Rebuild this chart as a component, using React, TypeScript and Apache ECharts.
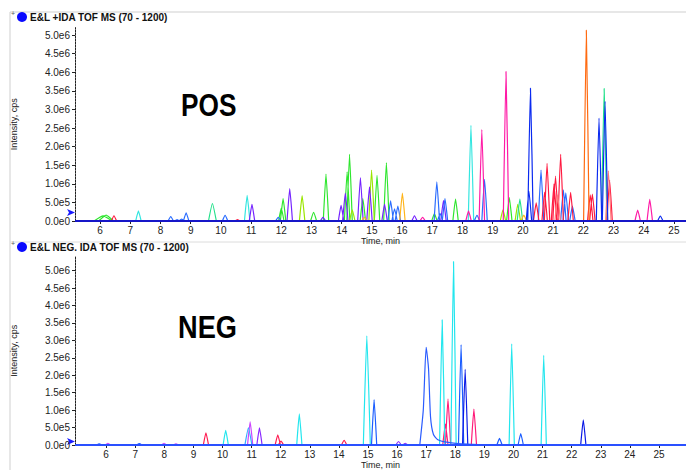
import React, { useEffect, useRef } from "react";
import * as echarts from "echarts";

// ---- Data: peaks as [retention time (min), intensity (x1e6 cps), optional half-width (min)] ----
// POS panel (E&L +IDA TOF MS)
const posGreen = [[6.1, 0.14, 0.3], [6.2, 0.16, 0.25], [12.0, 0.35], [12.06, 0.6], [13.07, 0.23, 0.1], [13.48, 1.26], [14.18, 1.32], [14.26, 1.79], [14.7, 0.6], [15.17, 1.23], [15.48, 1.57], [17.07, 0.2], [17.77, 0.59], [19.55, 0.63]];
const posLime = [[12.69, 0.68], [14.99, 1.37], [14.35, 0.3], [19.34, 0.3], [19.83, 0.45]];
const posSea = [[9.72, 0.47, 0.13], [19.9, 0.59], [22.69, 3.56]];
const posCyan = [[7.27, 0.27], [10.87, 0.69], [18.28, 2.57]];
const posViolet = [[11.03, 0.45], [12.28, 0.87], [13.38, 0.1], [13.98, 0.42], [14.12, 0.75], [14.62, 1.17], [14.92, 0.92], [15.42, 0.45], [16.41, 0.14], [17.37, 0.55]];
const posBlue = [[8.34, 0.12], [8.55, 0.04], [8.7, 0.05], [8.85, 0.22], [10.14, 0.15], [11.9, 0.1], [15.62, 0.54], [15.75, 0.33], [15.86, 0.4], [17.15, 1.05], [17.26, 0.2], [17.42, 0.6], [18.48, 0.15], [18.73, 1.12], [20.6, 1.37], [21.34, 0.84], [21.42, 0.76], [21.64, 0.4]];
const posDeepBlue = [[20.2, 0.8], [20.25, 3.57], [22.52, 2.77], [22.72, 3.22], [24.55, 0.13]];
const posMagenta = [[16.68, 0.1], [18.2, 0.27], [18.64, 2.46], [19.44, 4.02], [23.8, 0.29], [24.2, 0.58]];
const posRed = [[6.46, 0.14], [10.55, 0.04], [20.44, 0.49], [20.72, 0.78], [20.8, 1.55], [21.03, 1.0], [21.08, 1.21], [21.25, 1.79], [21.58, 0.77], [22.23, 0.7], [22.3, 0.72], [22.87, 1.1]];
const posOrange = [[22.1, 5.13]];
const posGold = [[14.75, 0.1], [16.01, 0.75], [20.03, 0.16]];
const posSalmon = [[21.15, 0.7], [22.83, 1.35]];

// NEG panel (E&L NEG. IDA TOF MS)
const negCyan = [[10.11, 0.42], [12.64, 0.89], [14.96, 3.13, 0.12], [17.55, 3.59], [17.94, 5.26], [19.94, 2.9], [21.04, 2.57]];
const negLightBlue = [[10.89, 0.49, 0.12]];
const negBlue = [[5.76, 0.03], [7.14, 0.04], [15.21, 1.3], [18.2, 2.88], [19.52, 0.19], [20.25, 0.33]];
const negDarkBlue = [[18.34, 2.17], [22.4, 0.72]];
const negViolet = [[11.27, 0.49], [16.05, 0.1], [16.28, 0.05]];
const negOrchid = [[6.06, 0.05], [7.99, 0.05], [8.4, 0.03], [10.95, 0.66]];
const negRed = [[9.43, 0.35], [11.9, 0.29], [12.01, 0.11], [14.18, 0.13]];
const negCrimson = [[17.66, 0.6], [17.75, 1.32], [18.64, 1.03]];
// tailing peak at 17.0 min, traced point by point
const negTailPeak = [[16.78, 0], [16.9, 1.0], [17.0, 2.8], [17.08, 2.2], [17.15, 0.8], [17.25, 0.3], [17.4, 0.15], [17.7, 0.08], [18.1, 0.04], [18.6, 0.02], [19.0, 0]];

// ---- Axes ----
const posTimeTicks = [6, 7, 8, 9, 10, 11, 12, 13, 14, 15, 16, 17, 18, 19, 20, 21, 22, 23, 24, 25];
const negTimeTicks = [6, 7, 8, 9, 10, 11, 12, 13, 14, 15, 16, 17, 18, 19, 20, 21, 22, 23, 24, 25];
const intensityTicks = [0, 0.5, 1, 1.5, 2, 2.5, 3, 3.5, 4, 4.5, 5];
const posRange = [5.17, 25.4];
const negRange = [4.93, 25.93];

const FONT = "'Liberation Sans', Arial, sans-serif";

function peaksToLine(peaks: number[][], defHw: number) {
  const out: any[] = [];
  for (const p of peaks) {
    const t = p[0], h = p[1];
    const hw = p.length > 2 ? p[2] : defHw;
    out.push([t - hw, 0], [t, h], [t + hw, 0], [t + hw, "-"]);
  }
  return out;
}

function fmtIntensity(v: number) {
  if (v === 0) return "0.0e0";
  return (v * 1e6).toExponential(1).replace("+", "");
}

export default function App() {
  const ref = useRef<HTMLDivElement>(null);
  useEffect(() => {
    if (!ref.current) return;
    const chart = echarts.init(ref.current, undefined, { renderer: "svg" });

    const posDefs: [number[][], string][] = [
      [posGreen, "#2ee62e"], [posLime, "#9ae600"], [posSea, "#22e08a"], [posCyan, "#33e6e0"],
      [posViolet, "#7422ff"], [posBlue, "#2a6cff"], [posMagenta, "#ff1aa6"], [posRed, "#ff1a40"],
      [posGold, "#ffb41a"], [posSalmon, "#ff7a7a"], [posDeepBlue, "#0a2af0"], [posOrange, "#ff6a10"],
    ];
    const negDefs: [number[][], string][] = [
      [negOrchid, "#cc44ff"], [negViolet, "#8a2aff"], [negRed, "#ff1a50"], [negCrimson, "#ff1a78"],
      [negLightBlue, "#33aaff"], [negBlue, "#1a5cff"], [negDarkBlue, "#0a18e6"], [negCyan, "#22e6ee"],
    ];

    const series: any[] = [];
    posDefs.forEach(([peaks, color]) => {
      series.push({
        type: "line", xAxisIndex: 0, yAxisIndex: 0, data: peaksToLine(peaks, 0.09),
        showSymbol: false, smooth: 0.15, connectNulls: false,
        lineStyle: { color, width: 1.2 }, itemStyle: { color }, z: 3,
      });
    });
    negDefs.forEach(([peaks, color]) => {
      series.push({
        type: "line", xAxisIndex: 1, yAxisIndex: 1, data: peaksToLine(peaks, 0.09),
        showSymbol: false, smooth: 0.15, connectNulls: false,
        lineStyle: { color, width: 1.2 }, itemStyle: { color }, z: 3,
      });
    });
    series.push({
      type: "line", xAxisIndex: 1, yAxisIndex: 1, data: negTailPeak,
      showSymbol: false, smooth: 0.2, lineStyle: { color: "#2a5cff", width: 1.2 }, z: 3,
    });
    // baselines
    series.push({
      type: "line", xAxisIndex: 0, yAxisIndex: 0, data: [[posRange[0], 0], [posRange[1], 0]],
      showSymbol: false, lineStyle: { color: "#1616c8", width: 2 }, z: 5,
    });
    series.push({
      type: "line", xAxisIndex: 1, yAxisIndex: 1, data: [[negRange[0], 0], [negRange[1], 0]],
      showSymbol: false, lineStyle: { color: "#2a50ff", width: 2 }, z: 5,
    });

    const xAxisBase = (gridIndex: number, range: number[], ticks: number[]) => ({
      type: "value", gridIndex, min: range[0], max: range[1],
      name: "Time, min", nameLocation: "middle", nameGap: 15,
      nameTextStyle: { fontSize: 9, color: "#222", fontFamily: FONT },
      axisLine: { show: false },
      axisTick: { show: true, length: 3, customValues: ticks, lineStyle: { color: "#222" } },
      axisLabel: { customValues: ticks, fontSize: 10, color: "#222", fontFamily: FONT, margin: 4 },
      splitLine: { show: false },
    });
    const yAxisBase = (gridIndex: number, max: number) => ({
      type: "value", gridIndex, min: 0, max,
      name: "Intensity, cps", nameLocation: "middle", nameGap: 57,
      nameTextStyle: { fontSize: 9, color: "#222", fontFamily: FONT },
      axisLine: { show: true, lineStyle: { color: "#222", width: 1, type: [2, 1] } },
      axisTick: { show: true, length: 3, customValues: intensityTicks, lineStyle: { color: "#222" } },
      axisLabel: { customValues: intensityTicks, fontSize: 10, color: "#222", fontFamily: FONT, margin: 5, formatter: fmtIntensity },
      splitLine: { show: false },
    });

    const bigFont = "'Liberation Sans', Arial, sans-serif";
    const graphic: any[] = [
      { type: "line", shape: { x1: 10, y1: 12, x2: 686, y2: 12 }, style: { stroke: "#cfcfcf", lineWidth: 1 } },
      { type: "line", shape: { x1: 10, y1: 12, x2: 10, y2: 470 }, style: { stroke: "#cfcfcf", lineWidth: 1 } },
      { type: "line", shape: { x1: 10, y1: 242, x2: 686, y2: 242 }, style: { stroke: "#dcdcdc", lineWidth: 1 } },
      { type: "text", x: 11, y: 10, style: { text: "+", fontSize: 7, fill: "#555", fontFamily: FONT } },
      { type: "circle", shape: { cx: 22, cy: 17, r: 5 }, style: { fill: "#0a0aff" } },
      { type: "text", x: 30, y: 17, style: { text: "E&L +IDA TOF MS (70 - 1200)", fontSize: 10, fontWeight: "bold", fill: "#111", fontFamily: FONT, verticalAlign: "middle" } },
      { type: "text", x: 11, y: 240, style: { text: "+", fontSize: 7, fill: "#555", fontFamily: FONT } },
      { type: "circle", shape: { cx: 22, cy: 247, r: 5 }, style: { fill: "#0a0aff" } },
      { type: "text", x: 30, y: 247, style: { text: "E&L NEG. IDA TOF MS (70 - 1200)", fontSize: 10, fontWeight: "bold", fill: "#111", fontFamily: FONT, verticalAlign: "middle" } },
      { type: "polygon", shape: { points: [[67, 209], [75, 212.5], [67, 216], [69, 212.5]] }, style: { fill: "#1a1aff" } },
      { type: "polygon", shape: { points: [[67, 438], [75, 441.5], [67, 445], [69, 441.5]] }, style: { fill: "#1a1aff" } },
      { type: "text", x: 181, y: 105, scaleX: 0.82, style: { text: "POS", fontSize: 32, fontWeight: "bold", fill: "#000", fontFamily: bigFont, verticalAlign: "middle" } },
      { type: "text", x: 178, y: 327, scaleX: 0.85, style: { text: "NEG", fontSize: 32, fontWeight: "bold", fill: "#000", fontFamily: bigFont, verticalAlign: "middle" } },
    ];

    chart.setOption({
      animation: false,
      backgroundColor: "#fff",
      grid: [
        { left: 75, top: 27.6, width: 611, height: 193.4 },
        { left: 75, top: 256.6, width: 611, height: 194.4 },
      ],
      xAxis: [xAxisBase(0, posRange, posTimeTicks), xAxisBase(1, negRange, negTimeTicks)],
      yAxis: [yAxisBase(0, 5.2), yAxisBase(1, 5.4)],
      series,
      graphic,
    });
    return () => chart.dispose();
  }, []);
  return (
    <div style={{ position: "fixed", left: 0, top: 0, width: 686, height: 470, background: "#fff" }}>
      <div ref={ref} style={{ width: 686, height: 470 }} />
    </div>
  );
}
